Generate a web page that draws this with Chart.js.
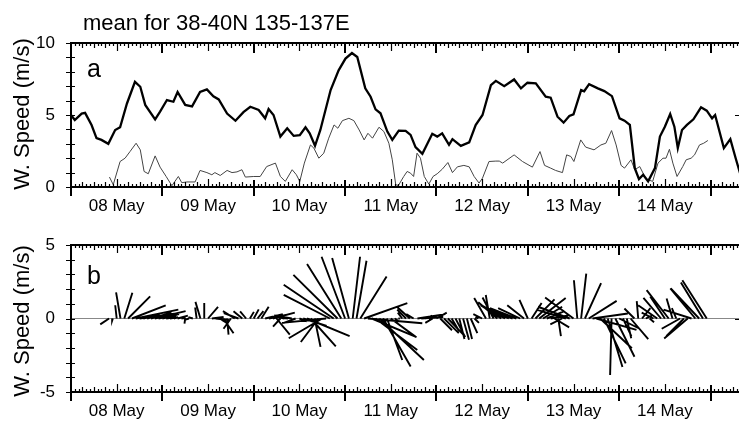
<!DOCTYPE html>
<html>
<head>
<meta charset="utf-8">
<script src="https://cdn.jsdelivr.net/npm/chart.js@4.4.1/dist/chart.umd.min.js"></script>
<style>
  html, body { margin: 0; padding: 0; background: #fff; overflow: hidden; }
  #wrap { position: relative; width: 745px; height: 421px; }
  #wrap canvas { position: absolute; left: 0; }
  #speedChart { top: 0; }
  #vectorChart { top: 215px; }
</style>
</head>
<body>
<div id="wrap">
  <canvas id="speedChart" width="745" height="215"></canvas>
  <canvas id="vectorChart" width="745" height="206"></canvas>
</div>
<script>
// time axis is hours since 08 May 00:00
const HOURS_MAX = 176;
const dayLabels = ["08 May", "09 May", "10 May", "11 May", "12 May", "13 May", "14 May"];
const dayLabelHours = [12, 36, 60, 84, 108, 132, 156];
const yTicksA = [0, 5, 10];
const yTicksB = [-5, 0, 5];

// mean of scalar wind speed (thick line)
const speedHours = [0, 1, 2.8, 3.7, 5.4, 6.7, 8, 9.8, 11.6, 12.9, 14.7, 16.8, 18.2, 19.5, 22.1, 23.4,
  25.2, 26.9, 28, 30, 31.8, 33.9, 35.7, 37.4, 38.8, 41, 43.2, 45.3, 47.1, 49.3, 51, 51.9, 53.2,
  55, 56.8, 58.5, 60.1, 61.6, 62.7, 64.1, 65.5, 68.2, 70.3, 72.1, 73.8, 75.2, 77.3, 78.7, 80,
  81.3, 83.1, 84.4, 86.1, 87.9, 89.2, 90.5, 92.3, 94.9, 96.2, 97.5, 99.3, 100.2, 102.4, 104.6,
  106.3, 108.1, 110.3, 111.6, 113.8, 116.4, 118.2, 119.9, 122.1, 124.7, 126, 127.8, 129.4, 130.9,
  132, 134, 134.8, 136.1, 138.4, 140.1, 142.1, 144.1, 145.4, 146.8, 148.1, 149.2, 150.3, 151.6,
  153.4, 154.7, 156, 157.4, 158.5, 159.4, 160.5, 161.8, 163.5, 165.5, 167, 168.4, 169.2, 171.5,
  173.2, 174.6, 176];
const speedMean = [5.0, 4.65, 5.1, 5.15, 4.3, 3.4, 3.27, 3.0, 3.96, 4.15, 5.8, 7.3, 6.96, 5.7, 4.7, 5.23,
  6.04, 5.92, 6.6, 5.7, 5.6, 6.6, 6.78, 6.3, 6.08, 5.1, 4.6, 5.2, 5.57, 5.35, 4.77, 5.41, 5.0,
  3.5, 4.08, 3.55, 3.6, 4.15, 3.73, 2.86, 3.96, 6.73, 8.1, 8.92, 9.3, 9.03, 6.85, 6.27, 5.39,
  5.12, 3.85, 3.27, 3.92, 3.9, 3.62, 2.77, 2.3, 3.69, 3.5, 3.73, 2.93, 3.32, 2.86, 3.1,
  4.3, 5.0, 7.07, 7.37, 7.0, 7.47, 6.85, 7.24, 7.2, 6.27, 6.2, 4.88, 4.47, 4.93,
  5.05, 6.73, 6.65, 7.14, 6.85, 6.66, 6.31, 4.77, 4.61, 4.31, 1.31, 0.55, 0.85, 0.39,
  1.31, 3.5, 4.19, 5.07, 4.19, 2.7, 3.96, 4.31, 4.7, 5.53, 5.3, 4.77, 5.0, 2.7,
  3.32, 2.0, 0.73];

// speed of the mean wind vector (thin line)
const vecHours = [10.1, 11.1, 12.9, 14.2, 15.5, 17.1, 18.2, 19.2, 20.3, 22.1, 23.4, 25, 26.5, 28.2, 29.1,
  30.4, 32.6, 33.9, 35.7, 37, 37.8, 39.2, 41, 42.3, 43.6, 44.9, 45.8, 48, 49.7, 51.4, 53.7, 55,
  56.3, 58.1, 59.2, 60.1, 61.3, 62.9, 63.8, 65.1, 66.4, 67.7, 69.1, 70.1, 71.3, 73, 74.3, 75.7,
  77, 78, 79.2, 80.9, 82.2, 83.5, 84.4, 85.3, 86, 87.4, 88.3, 89.2, 90, 90.9, 91.8, 92.8, 94,
  95.1, 96.2, 97.5, 99, 100.2, 101.5, 103.2, 104.6, 105.9, 107.2, 108.1, 109.8, 111.6, 112.5,
  113.4, 116.4, 118.6, 121.2, 123.2, 124.4, 126, 127.3, 129.1, 130.2, 131.3, 132.1, 133.9, 135.2,
  137.4, 139.2, 140.5, 142, 143.2, 144.5, 145.4, 147.1, 148.1, 149.4, 150.7, 151.6, 152.8, 154.2,
  155.5, 156.3, 157.2, 158.1, 159.2, 160.7, 161.6, 162.9, 163.8, 165.1, 166.2, 167.3];
const vecSpeed = [0.69, 0.16, 1.77, 2.0, 2.46, 3.04, 2.58, 1.08, 0.92, 2.16, 1.38, 0.73, 0.09, 0.73, 0.3,
  0.35, 0.35, 1.15, 1.0, 0.85, 1.0, 0.8, 1.15, 1.0, 1.05, 1.2, 0.69, 0.73, 0.73, 1.42, 1.66, 0.73,
  0.39, 1.2, 0.85, 0.39, 1.66, 2.92, 2.7, 2.0, 2.35, 3.39, 4.31, 4.08, 4.61, 4.77, 4.61, 3.96,
  3.27, 3.73, 3.39, 4.15, 3.85, 3.04, 1.89, 0.16, 0.1, 0.73, 1.08, 0.96, 0.73, 2.35, 2.0, 0.73, 0.2,
  0.73, 0.92, 1.23, 1.7, 1.0, 1.4, 1.5, 1.4, 0.73, 0.27, 0.62, 1.77, 1.8, 1.8,
  1.66, 2.23, 1.77, 1.38, 2.46, 1.5, 1.31, 1.15, 1.0, 2.23, 2.12, 1.77, 3.27, 2.77,
  2.58, 2.92, 3.04, 3.92, 2.92, 1.5, 1.31, 1.89, 1.2, 1.42, 0.73, 0.5, 0.39, 1.66,
  2.0, 2.0, 2.62, 1.66, 0.73, 1.42, 1.89, 2.0, 2.23, 2.92, 3.04, 3.23];

// hourly wind vectors for the stick plot (m/s, u east, v north)
const stickHours = [10, 11, 12, 13, 14, 15, 16, 17, 18, 19, 20, 21, 22, 23, 24, 25, 26, 27, 28, 29,
  30, 31, 32, 33, 34, 35, 36, 37, 38, 39, 40, 41, 42, 43, 44, 45, 46, 47, 48, 49,
  50, 51, 52, 53, 54, 55, 56, 57, 58, 59, 60, 61, 62, 63, 64, 65, 66, 67, 68, 69,
  70, 71, 72, 73, 74, 75, 76, 77, 78, 79, 80, 81, 82, 83, 84, 85, 86, 87, 88, 89,
  90, 91, 92, 93, 94, 95, 96, 97, 98, 99, 100, 101, 102, 103, 104, 105, 106, 107, 108, 109,
  110, 111, 112, 113, 114, 115, 116, 117, 118, 119, 120, 121, 122, 123, 124, 125, 126, 127, 128, 129,
  130, 131, 132, 133, 134, 135, 136, 137, 138, 139, 140, 141, 142, 143, 144, 145, 146, 147, 148, 149,
  150, 151, 152, 153, 154, 155, 156, 157, 158, 159, 160, 161, 162, 163, 164, 165, 166, 167];
const stickU = [-0.6, -0.05, -0.1, -0.3, 0.55, 1.5, 2.3, 2.9, 2.5, 1.1, 0.85, 1.4, 2.1, 1.4, 1.0, 0.7, 0.3, 0.3, 0.7, 0.3,
  -0.05, -0.3, -0.3, -0.1, -0.34, 0.0, 0.68, 0.8, 0.9, 0.5, 0.7, 0.1, -0.5, -0.8, -1.0, -0.6, -0.41, 0.27, 0.34, 0.4,
  0.5, 1.2, 1.4, 1.5, 0.9, -0.5, -0.4, -0.8, -1.2, -0.8, 0.5, 1.6, 2.9, 1.7, 0.4, -1.2, -2.28, -3.0, -3.14, -3.4,
  -3.0, -2.33, -1.6, -1.14, 0.5, 0.68, 1.79, 2.94, 3.7, 3.05, 2.84, 3.03, 1.87, 1.04, 1.7, 0.25, 0.1, -0.3, -0.6, -0.9,
  -0.5, 1.9, 1.5, 0.5, 0.2, -0.5, 0.7, 0.8, 1.0, 1.2, 0.5, 0.6, 0.35, 0.4, 0.35, 0.45, 0.3, -0.2, -0.6, -0.8,
  -0.27, -0.75, -1.3, -1.4, -1.5, -1.7, -2.0, -1.8, -1.5, -1.14, -0.57, 0.68, 1.3, 1.8, 1.3, 1.2, 1.2, 1.0, 0.18, -0.8,
  -2.0, -2.16, -1.93, -0.23, 0.35, 1.1, 1.9, 2.4, 2.73, 2.16, 1.48, 1.0, -0.1, 1.3, 1.36, 0.57, 0.3, 1.2, -0.68, -0.1,
  0.57, 0.4, 0.3, -0.8, -1.3, -1.2, -1.0, -1.5, -0.4, -0.3, -1.25, -1.2, -1.6, -1.9, -1.7, -1.93, -1.5, -1.66];
const stickV = [-0.4, -0.15, 0.9, 1.78, 1.75, 1.5, 0.9, 0.6, 0.35, 0.3, 0.25, 0.4, 0.5, 0.3, 0.25, 0.1, 0.05, 0.1, 0.2, 0.05,
  -0.35, -0.1, 0.1, 0.75, 1.13, 1.05, 0.79, 0.1, -0.1, -0.3, -1.0, -1.1, -0.7, 0.5, 0.36, 0.5, 0.48, 0.45, 0.62, 0.5,
  0.8, 0.3, 0.3, 0.4, -1.1, -0.55, 0.1, 0.1, 0.2, -0.3, -0.2, -0.5, -1.2, -1.9, -1.93, -1.6, -1.34, -0.3, 1.61, 2.29,
  2.97, 3.7, 4.2, 4.11, 4.2, 3.93, 2.86, 1.04, -0.32, -1.27, -2.14, -2.82, -3.27, -2.82, -1.25, -0.15, 0.0, 0.4, 0.6, 0.82,
  0.3, 0.3, 0.1, 0.2, 0.05, -0.3, 0.4, -0.8, -1.0, -1.25, -0.85, -1.15, -1.4, -1.45, -1.4, -1.0, -0.3, 0.1, 0.3, 1.39,
  1.6, 1.43, 1.1, 0.9, 0.85, 0.8, 0.8, 0.7, 0.7, 0.9, 1.27, 1.05, 1.3, 1.4, 0.8, 0.5, 0.2, -0.6, -1.2, -0.4,
  0.6, 0.8, 1.43, 2.6, 3.05, 2.4, 1.2, 0.34, -0.77, -2.02, -3.05, -3.3, -3.85, -2.6, -0.68, -1.2, -1.34, -1.4, 0.68, 1.18,
  0.7, 0.2, -0.25, 0.4, 0.9, 1.4, 1.5, 1.93, 1.36, 0.7, -0.7, -1.2, -1.36, 0.6, 2.05, 2.05, 2.45, 2.6];

// x-axis hours per 1 m/s so sticks keep true direction (14.7 px per m/s / 3.81 px per hour)
const STICK_SCALE = 3.86;

Chart.defaults.font.family = "'Liberation Sans', Arial, sans-serif";
Chart.defaults.color = "#000";

// box, hour ticks, day ticks and free text drawn from the chart's own scales
const frameTicks = {
    id: "frameTicks",
    afterDraw(chart, args, opts) {
        const ctx = chart.ctx;
        const a = chart.chartArea;
        const x = chart.scales.x;
        const y = chart.scales.y;
        ctx.save();
        ctx.strokeStyle = "#000";

        ctx.lineWidth = 1.2;
        ctx.beginPath();
        for (let h = 0; h <= HOURS_MAX; h++) {
            if (h % 24 === 0) continue;
            const px = Math.round(x.getPixelForValue(h)) + 0.5;
            let len = 3;
            if (h % 12 === 0) len = 8;
            else if (h % 3 === 0) len = 5;
            ctx.moveTo(px, a.top); ctx.lineTo(px, a.top + len);
            ctx.moveTo(px, a.bottom); ctx.lineTo(px, a.bottom - len);
        }
        for (let v = y.min; v <= y.max; v++) {
            const py = Math.round(y.getPixelForValue(v)) + 0.5;
            ctx.moveTo(a.left - 5, py); ctx.lineTo(a.left + 4, py);
            if (v % 5 === 0) { ctx.moveTo(a.right, py); ctx.lineTo(a.right - 6, py); }
        }
        ctx.stroke();

        ctx.lineWidth = 2;
        ctx.beginPath();
        for (let h = 0; h <= HOURS_MAX; h += 24) {
            const px = Math.round(x.getPixelForValue(h));
            ctx.moveTo(px, a.top); ctx.lineTo(px, a.top + 10);
            ctx.moveTo(px, a.bottom + 9); ctx.lineTo(px, a.bottom - 7);
        }
        ctx.stroke();
        ctx.strokeRect(a.left, a.top, a.right - a.left, a.bottom - a.top);

        ctx.fillStyle = "#000";
        ctx.textBaseline = "alphabetic";
        for (const t of opts.texts || []) {
            ctx.font = `${t.size}px 'Liberation Sans', Arial, sans-serif`;
            ctx.save();
            ctx.translate(t.x, t.y);
            if (t.rotate) {
                ctx.rotate(-Math.PI / 2);
                ctx.textAlign = "center";
            } else {
                ctx.textAlign = "left";
            }
            ctx.fillText(t.text, 0, 0);
            ctx.restore();
        }
        ctx.restore();
    }
};

function timeAxis(height) {
    return {
        type: "linear",
        min: 0,
        max: HOURS_MAX,
        grid: {display: false, drawTicks: false},
        border: {display: false},
        afterBuildTicks: (axis) => {
            axis.ticks = dayLabelHours.map(v => ({value: v}));
        },
        afterFit: (axis) => { axis.height = height; },
        ticks: {
            autoSkip: false,
            maxRotation: 0,
            padding: 9,
            font: {size: 17},
            callback: (value) => dayLabels[dayLabelHours.indexOf(value)]
        }
    };
}

function speedAxis(min, max, ticks) {
    return {
        min: min,
        max: max,
        grid: {display: false, drawTicks: false},
        border: {display: false},
        afterBuildTicks: (axis) => {
            axis.ticks = ticks.map(v => ({value: v}));
        },
        afterFit: (axis) => { axis.width = 71; },
        ticks: {padding: 16, font: {size: 17}}
    };
}

const speedChart = new Chart(document.getElementById("speedChart"), {
    type: "line",
    data: {
        datasets: [
            {
                label: "mean speed",
                data: speedHours.map((h, i) => ({x: h, y: speedMean[i]})),
                borderColor: "#000",
                borderWidth: 2.3,
                pointRadius: 0,
                tension: 0
            },
            {
                label: "vector mean speed",
                data: vecHours.map((h, i) => ({x: h, y: vecSpeed[i]})),
                borderColor: "#444",
                borderWidth: 1,
                pointRadius: 0,
                tension: 0
            }
        ]
    },
    options: {
        responsive: false,
        animation: false,
        devicePixelRatio: 1,
        layout: {padding: {top: 43, right: 4, bottom: 0, left: 0}},
        scales: {
            x: timeAxis(28),
            y: speedAxis(0, 10, yTicksA)
        },
        plugins: {
            legend: {display: false},
            tooltip: {enabled: false},
            frameTicks: {
                texts: [
                    {text: "mean for 38-40N 135-137E", x: 83, y: 29.5, size: 22},
                    {text: "a", x: 87, y: 77, size: 25},
                    {text: "W. Speed (m/s)", x: 29, y: 114, size: 22, rotate: true}
                ]
            }
        }
    },
    plugins: [frameTicks]
});

// each stick: base on the zero line, tip at (t + u*scale, v); null breaks the line
const stickPoints = [];
stickHours.forEach((h, i) => {
    stickPoints.push({x: h, y: 0});
    stickPoints.push({x: h + stickU[i] * STICK_SCALE, y: stickV[i]});
    stickPoints.push({x: h, y: null});
});

const vectorChart = new Chart(document.getElementById("vectorChart"), {
    type: "line",
    data: {
        datasets: [
            {
                label: "wind vector",
                data: stickPoints,
                borderColor: "#000",
                borderWidth: 1.9,
                pointRadius: 0,
                spanGaps: false,
                tension: 0
            },
            {
                label: "zero",
                data: [{x: 0, y: 0}, {x: HOURS_MAX, y: 0}],
                borderColor: "#888",
                borderWidth: 1,
                pointRadius: 0
            }
        ]
    },
    options: {
        responsive: false,
        animation: false,
        devicePixelRatio: 1,
        layout: {padding: {top: 30, right: 4, bottom: 0, left: 0}},
        scales: {
            x: timeAxis(29),
            y: speedAxis(-5, 5, yTicksB)
        },
        plugins: {
            legend: {display: false},
            tooltip: {enabled: false},
            frameTicks: {
                texts: [
                    {text: "b", x: 87, y: 69, size: 25},
                    {text: "W. Speed (m/s)", x: 29, y: 106, size: 22, rotate: true}
                ]
            }
        }
    },
    plugins: [frameTicks]
});
</script>
</body>
</html>
